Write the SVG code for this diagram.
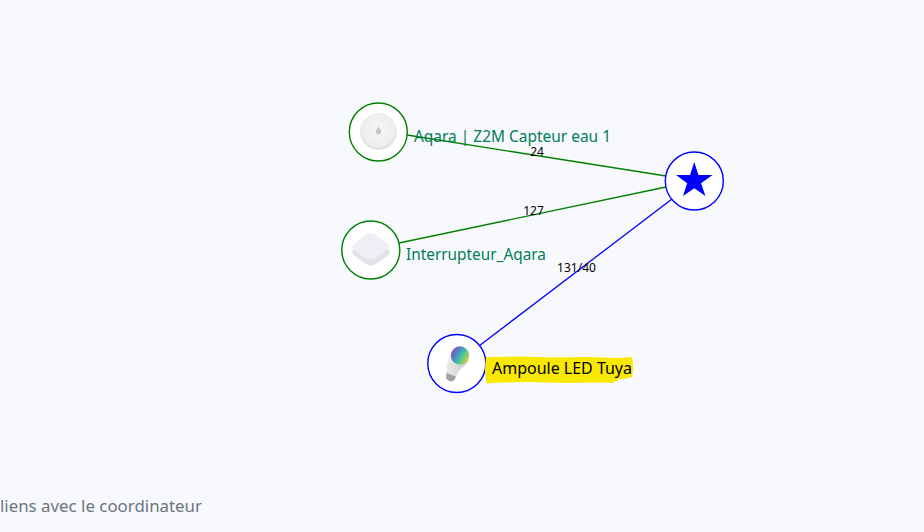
<svg xmlns="http://www.w3.org/2000/svg" width="924" height="532" viewBox="0 0 924 532">
<style>
text{font-family:"Noto Sans","Open Sans","Liberation Sans",sans-serif}
.ring{fill:#fff;stroke-width:1.4}
.g{stroke:#008000}
.b{stroke:#0000ff}
.lnk{fill:none;stroke-width:1.3}
.lbl{font-size:16px}
.el{font-size:12px;fill:#000;text-anchor:middle}
</style>
<defs>
<radialGradient id="puck" cx="50%" cy="45%" r="55%"><stop offset="0" stop-color="#f6f6f8"/><stop offset="0.8" stop-color="#eeeef1"/><stop offset="1" stop-color="#dcdce1"/></radialGradient>
<linearGradient id="rgb" x1="0" y1="0" x2="1" y2="0.6"><stop offset="0" stop-color="#c8408c"/><stop offset="0.35" stop-color="#5878c8"/><stop offset="0.65" stop-color="#40c0a8"/><stop offset="1" stop-color="#c8d040"/></linearGradient>
<linearGradient id="body" x1="0" y1="0" x2="1" y2="0.4"><stop offset="0" stop-color="#f2f2f3"/><stop offset="1" stop-color="#cfcfd2"/></linearGradient>
</defs>
<rect width="924" height="532" fill="#f8f9fd"/>
<g id="connectors">
<line class="lnk g" x1="407" y1="135" x2="666" y2="176"/>
<line class="lnk g" x1="399" y1="243" x2="666" y2="187"/>
<line class="lnk b" x1="479" y1="346" x2="672" y2="199"/>
<text class="el" x="537" y="156">24</text>
<text class="el" x="533.500" y="215">127</text>
<text class="el" x="576.500" y="272">131/40</text>
</g>
<g id="node-capteur">
<circle class="ring g" cx="378.300" cy="132" r="29"/>
<circle cx="378.500" cy="131.500" r="18.500" fill="url(#puck)"/>
<path d="M378.500 126.500c-1.500 2.500-2.600 3.500-2.600 5.200a2.600 2.600 0 0 0 5.200 0c0-1.700-1.100-2.700-2.600-5.200z" fill="#c4c4c8"/>
<text class="lbl" x="414" y="142" fill="#007d55" textLength="197" lengthAdjust="spacingAndGlyphs">Aqara | Z2M Capteur eau 1</text>
</g>
<g id="node-interrupteur">
<circle class="ring g" cx="370.800" cy="250" r="29"/>
<path d="M352.500 250l0 3q.3 1.500 2 3l11.500 8q5 3 10 0l12-8.500q1.500-1.300 1.700-3l0-3z" fill="#e2e2e9"/>
<path d="M366 234.500q4.500-2.500 9 0l13 9q3.500 3 0 5.500l-12.500 9q-5 3-10 0l-11.500-8q-3.500-3 0-6z" fill="#eeeff4"/>
<text class="lbl" x="406" y="260" fill="#007d55" textLength="140" lengthAdjust="spacingAndGlyphs">Interrupteur_Aqara</text>
</g>
<g id="node-ampoule">
<circle class="ring b" cx="456.800" cy="363.500" r="29"/>
<path d="M452 352l17 8q-4 6-7.500 8.500t-5.500 8l-9.500-3.500q0-5 .5-8.500t5-12.500z" fill="url(#body)"/>
<path d="M446.500 373l9.500 3.500-1.500 3.500q-1.800 2-4.500 1.200t-4-3z" fill="#a0a0a5"/>
<circle cx="460" cy="355.500" r="9.200" fill="url(#rgb)"/>
<path d="M486 357l36-.5 30 1 36-.5 30 1 14-1q1 6 1 10t-1 10q-5 2-12 2l-8 4-10-.5-36 .5-38-1-26 .5-15 1q-2-8-2-12.500t1-14.500z" fill="#f9e800"/>
<text class="lbl" x="492" y="374" fill="#000" textLength="140" lengthAdjust="spacingAndGlyphs">Ampoule LED Tuya</text>
</g>
<g id="node-coordinateur">
<circle class="ring b" cx="694.300" cy="181" r="29"/>
<polygon points="694.300,162 698.400,175 712.500,175 701.100,183.300 705.400,196 694.300,188.300 683,196 687.200,183.300 676,175 690,175" fill="#0000ff"/>
</g>
<text x="0" y="512" font-size="16" fill="#6c757d" textLength="202" lengthAdjust="spacingAndGlyphs">liens avec le coordinateur</text>
</svg>
